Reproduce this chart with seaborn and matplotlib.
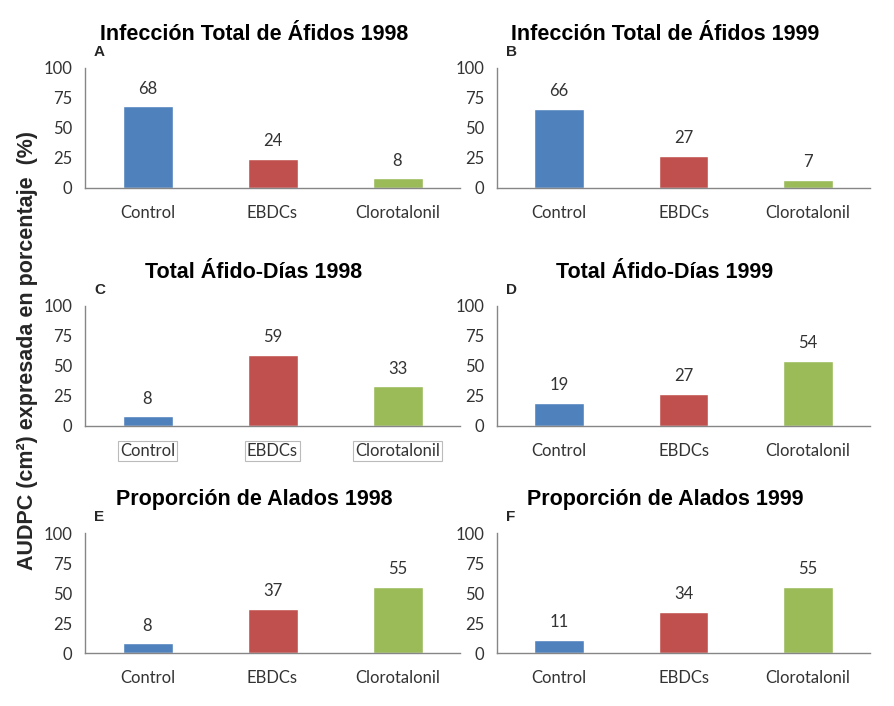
import matplotlib
matplotlib.use("Agg")
import matplotlib.pyplot as plt
import seaborn as sns
import pandas as pd

categories = ["Control", "EBDCs", "Clorotalonil"]
colors = ["#4F81BD", "#C0504D", "#9BBB59"]

titles = [
    "Infección Total de Áfidos 1998",
    "Infección Total de Áfidos 1999",
    "Total Áfido-Días 1998",
    "Total Áfido-Días 1999",
    "Proporción de Alados 1998",
    "Proporción de Alados 1999",
]
letters = ["A", "B", "C", "D", "E", "F"]

infeccion_1998 = [68, 24, 8]
infeccion_1999 = [66, 27, 7]
afido_dias_1998 = [8, 59, 33]
afido_dias_1999 = [19, 27, 54]
alados_1998 = [8, 37, 55]
alados_1999 = [11, 34, 55]
panel_values = [infeccion_1998, infeccion_1999, afido_dias_1998,
                afido_dias_1999, alados_1998, alados_1999]

yticks = [0, 25, 50, 75, 100]

sns.set_style("white")
plt.rcParams["font.family"] = ["Lato", "DejaVu Sans"]

W, H = 894, 706
fig = plt.figure(figsize=(W / 100, H / 100), dpi=100)

# pixel boxes: left, top(of 100), right, bottom(of 0)
lefts = [85, 497]
rights = [460, 870]
tops = [68, 306, 533]
bottoms = [188, 426, 653]

for i, vals in enumerate(panel_values):
    row, col = divmod(i, 2)
    l, r = lefts[col], rights[col]
    t, b = tops[row], bottoms[row]
    ax = fig.add_axes([l / W, 1 - b / H, (r - l) / W, (b - t) / H])
    df = pd.DataFrame({"cat": categories, "val": vals})
    sns.barplot(data=df, x="cat", y="val", hue="cat", palette=colors,
                width=0.4, legend=False, ax=ax, saturation=1)
    ax.set_xlim(-0.5, 2.5)
    ax.set_ylim(0, 100)
    ax.set_yticks(yticks)
    ax.set_xlabel("")
    ax.set_ylabel("")
    for s in ["top", "right"]:
        ax.spines[s].set_visible(False)
    for s in ["left", "bottom"]:
        ax.spines[s].set_color("#868686")
        ax.spines[s].set_linewidth(1)
    ax.tick_params(axis="y", which="major", direction="out", length=5,
                   color="#868686", labelsize=12, labelcolor="#333333", pad=4)
    ax.set_xticks([0, 1, 2])
    ax.set_xticks([-0.5, 0.5, 1.5, 2.5], minor=True)
    ax.tick_params(axis="x", which="major", length=0, labelsize=12,
                   labelcolor="#333333", pad=12)
    ax.tick_params(axis="x", which="minor", direction="out", length=5,
                   color="#868686")
    if i == 2:
        for lab in ax.get_xticklabels():
            lab.set_bbox(dict(facecolor="white", edgecolor="#BBBBBB",
                              linewidth=0.8, pad=1.5))
    for x, v in enumerate(vals):
        ax.annotate(str(v), (x, v), xytext=(0, 7), textcoords="offset points",
                    ha="center", va="bottom", fontsize=12, color="#333333")
    ax.set_title(titles[i], fontsize=15.5, fontweight="bold", color="black",
                 family=["Liberation Sans", "DejaVu Sans"], pad=20, x=0.45)
    ax.text(l / W + 9 / W, 1 - (t - 16) / H, letters[i], transform=fig.transFigure,
            fontsize=11, fontweight="bold", family=["Liberation Sans"],
            ha="left", va="center")

fig.text(28 / W, 1 - 350 / H, "AUDPC (cm²) expresada en porcentaje  (%)",
         rotation=90, ha="center", va="center", fontsize=15.5, fontweight="bold",
         family=["Liberation Sans", "DejaVu Sans"])

fig.savefig("out.png", dpi=100)
